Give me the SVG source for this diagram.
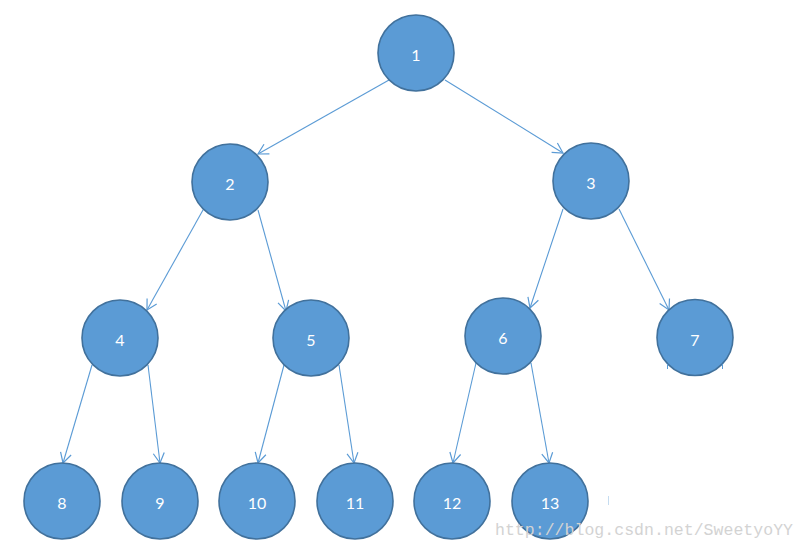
<svg xmlns="http://www.w3.org/2000/svg" width="805" height="549" viewBox="0 0 805 549">
<defs>
<marker id="arr" markerUnits="userSpaceOnUse" markerWidth="14" markerHeight="14" viewBox="-12 -7 14 14" refX="0" refY="0" orient="auto">
<path d="M-10,-5.5 L0,0 L-10,5.5" fill="none" stroke="#5B9BD5" stroke-width="1.2"/>
</marker>
</defs>
<style>
.n circle{fill:#5B9BD5;stroke:#41719C;stroke-width:1.6}
.n text{fill:#fff;font-family:Lato,"Open Sans","Liberation Sans",sans-serif;font-size:16px;text-anchor:middle;dominant-baseline:central}
.e line{stroke:#5B9BD5;stroke-width:1.1;marker-end:url(#arr)}
</style>
<rect width="805" height="549" fill="#fff"/>
<g id="edges" class="e">
<line x1="389" y1="80" x2="258" y2="154"/>
<line x1="445" y1="80" x2="563" y2="153"/>
<line x1="203" y1="210" x2="147" y2="310"/>
<line x1="258" y1="210" x2="286" y2="311"/>
<line x1="563" y1="209" x2="530" y2="308"/>
<line x1="619" y1="209" x2="669" y2="310"/>
<line x1="92" y1="365" x2="63" y2="463"/>
<line x1="148" y1="365" x2="160" y2="463"/>
<line x1="284" y1="365" x2="258" y2="463"/>
<line x1="339" y1="365" x2="354" y2="463"/>
<line x1="476" y1="363" x2="453" y2="463"/>
<line x1="531" y1="363" x2="549" y2="463"/>
</g>
<g id="n1" class="n"><circle cx="416" cy="53" r="38"/><text x="416" y="54">1</text></g>
<g id="n2" class="n"><circle cx="230" cy="182" r="38"/><text x="230" y="183">2</text></g>
<g id="n3" class="n"><circle cx="591" cy="181" r="38"/><text x="591" y="182">3</text></g>
<g id="n4" class="n"><circle cx="120" cy="338" r="38"/><text x="120" y="339">4</text></g>
<g id="n5" class="n"><circle cx="311" cy="338" r="38"/><text x="311" y="339">5</text></g>
<g id="n6" class="n"><circle cx="503" cy="336" r="38"/><text x="503" y="337">6</text></g>
<g id="n7" class="n"><circle cx="695" cy="337.5" r="38"/><text x="695" y="339">7</text></g>
<g id="n8" class="n"><circle cx="62" cy="501" r="38"/><text x="62" y="502">8</text></g>
<g id="n9" class="n"><circle cx="160" cy="501" r="38"/><text x="160" y="502">9</text></g>
<g id="n10" class="n"><circle cx="257" cy="501" r="38"/><text x="257" y="502">10</text></g>
<g id="n11" class="n"><circle cx="355" cy="501" r="38"/><text x="355" y="502">11</text></g>
<g id="n12" class="n"><circle cx="452" cy="501" r="38"/><text x="452" y="502">12</text></g>
<g id="n13" class="n"><circle cx="550" cy="501" r="38"/><text x="550" y="502">13</text></g>
<g stroke="#5B9BD5" stroke-width="1">
<line x1="667.5" y1="364" x2="667.5" y2="369"/>
<line x1="722.5" y1="364" x2="722.5" y2="369"/>
<line x1="608.5" y1="496" x2="608.5" y2="505" stroke="#C5DCF0"/>
</g>
<text x="495" y="535" font-family="'Liberation Mono',monospace" font-size="16.5" fill="#D3D3D3" textLength="298">http://blog.csdn.net/SweetyoYY</text>
</svg>
